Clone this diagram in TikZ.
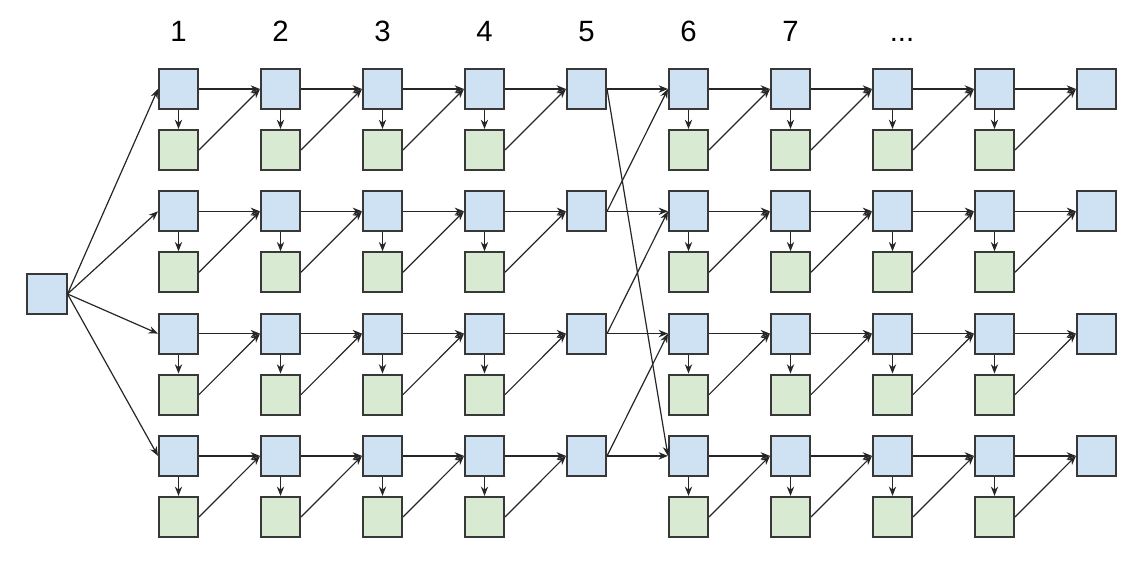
\documentclass[tikz,border=0pt]{standalone}
\usepackage{fontspec}
\setmainfont{Liberation Sans}
\usetikzlibrary{arrows.meta}
\definecolor{cellblue}{HTML}{CFE2F3}
\definecolor{cellgreen}{HTML}{D9EAD3}
\definecolor{cellline}{HTML}{383838}

\begin{document}
\begin{tikzpicture}[
  x=0.75pt, y=-0.75pt,
  blk/.style={draw=cellline, line width=1.5pt, fill=cellblue, inner sep=0pt,
              minimum width=29.3pt, minimum height=30pt},
  chk/.style={blk, fill=cellgreen},
  lbl/.style={font=\fontsize{22}{26}\selectfont, inner sep=0pt, anchor=base},
  arr/.style={-{Stealth[length=7pt, width=5.5pt]}, line width=0.9pt, draw=black!85},
]
  \useasboundingbox (0,0) rectangle (1142,573);

  % column numbers
  \foreach \c in {1,...,7}
    \node[lbl] (L\c) at ({178.5+102*(\c-1)}, 42) {\c};
  \node[lbl] (L8) at (902, 42) {...};

  % source block
  \node[blk] (S) at (47, 294) {};

  % blue blocks
  \foreach \c in {1,...,10}
    \foreach \r in {1,...,4}
      \node[blk] (B\c-\r) at ({178.5+102*(\c-1)}, {89+122.3*(\r-1)}) {};

  % green blocks, none under columns 5 and 10
  \foreach \c in {1,2,3,4,6,7,8,9}
    \foreach \r in {1,...,4} {
      \pgfmathtruncatemacro\n{\c+1}
      \node[chk] (G\c-\r) at ({178.5+102*(\c-1)}, {150+122.3*(\r-1)}) {};
      \draw[arr] (B\c-\r) -- (G\c-\r);
      \draw[arr] (G\c-\r.east) -- (B\n-\r.west);
    }

  % row links
  \foreach \c in {1,...,9}
    \foreach \r in {1,...,4} {
      \pgfmathtruncatemacro\n{\c+1}
      \draw[arr] (B\c-\r.east) -- (B\n-\r.west);
    }

  % fan out from the source
  \foreach \r in {1,...,4}
    \draw[arr] (S.east) -- (B1-\r.west);

  % rotation between columns 5 and 6
  \draw[arr] (B5-1.east) -- (B6-4.west);
  \draw[arr] (B5-2.east) -- (B6-1.west);
  \draw[arr] (B5-3.east) -- (B6-2.west);
  \draw[arr] (B5-4.east) -- (B6-3.west);
\end{tikzpicture}
\end{document}
